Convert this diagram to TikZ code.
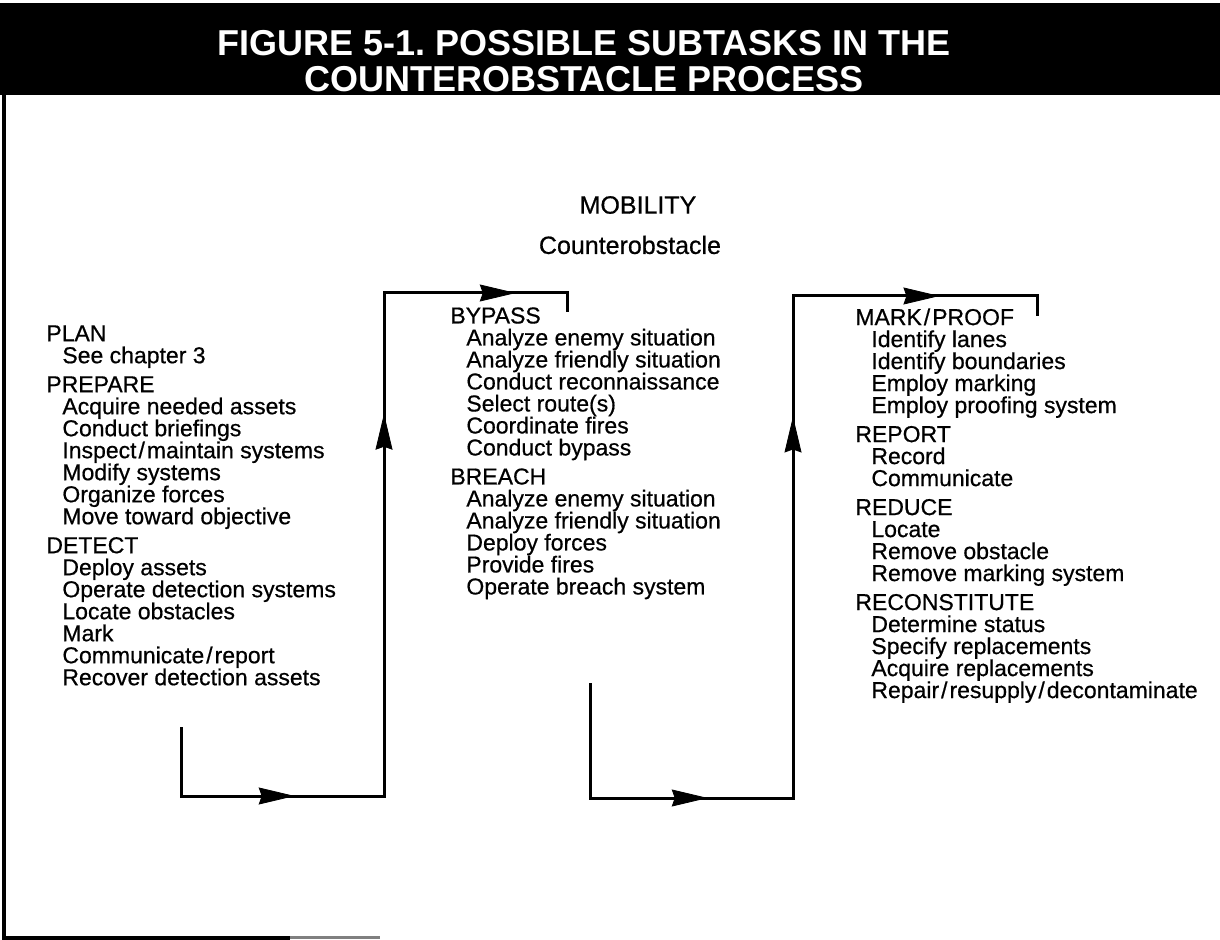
\documentclass[tikz,border=0pt]{standalone}
\usepackage{fontspec}
\setmainfont{Liberation Sans}
\newfontfamily\bodyfont{Liberation Sans}[FakeBold=0.6]
\usetikzlibrary{arrows.meta,decorations.markings}
\newcommand\subind{\hspace*{8pt}}
\newcommand\slsep{\kern1pt/\kern1pt}
\begin{document}
\frenchspacing
\begin{tikzpicture}[x=0.5pt,y=-0.5pt,
  conn/.style={line width=1.5pt, line join=miter},
  headat/.style={decoration={markings, mark=at position #1 with {\arrow{Stealth[length=18pt,width=8.5pt,inset=1.5pt]}}}, postaction=decorate},
  col/.style={align=left, anchor=north west, inner sep=0pt, font=\bodyfont\fontsize{11.5}{11}\selectfont},
  caption/.style={inner sep=0pt, font=\bodyfont\fontsize{12.5}{12.5}\selectfont}]
\useasboundingbox (0,0) rectangle (1220,940);

% title bar
\fill[black] (0,3) rectangle (1220,95);
\node[text=white, align=center, inner sep=0pt, font=\bfseries\fontsize{18}{18}\selectfont] (title) at (584,61)
  {FIGURE 5-1. POSSIBLE SUBTASKS IN THE\\COUNTEROBSTACLE PROCESS};

% frame
\draw[line width=2pt] (4,95) -- (4,937.5) -- (290,937.5);
\draw[line width=1.2pt, gray] (290,937.5) -- (380,937.5);

% heading
\node[caption] (mob) at (638,205) {MOBILITY};
\node[caption] (cob) at (630,245) {Counterobstacle};

% task lists
\node[col] (left) at (46,325) {PLAN\\
\subind See chapter 3\\[3.5pt]
PREPARE\\
\subind Acquire needed assets\\
\subind Conduct briefings\\
\subind Inspect\slsep maintain systems\\
\subind Modify systems\\
\subind Organize forces\\
\subind Move toward objective\\[3.5pt]
DETECT\\
\subind Deploy assets\\
\subind Operate detection systems\\
\subind Locate obstacles\\
\subind Mark\\
\subind Communicate\slsep report\\
\subind Recover detection assets};

\node[col] (mid) at (450,307) {BYPASS\\
\subind Analyze enemy situation\\
\subind Analyze friendly situation\\
\subind Conduct reconnaissance\\
\subind Select route(s)\\
\subind Coordinate fires\\
\subind Conduct bypass\\[3.5pt]
BREACH\\
\subind Analyze enemy situation\\
\subind Analyze friendly situation\\
\subind Deploy forces\\
\subind Provide fires\\
\subind Operate breach system};

\node[col] (right) at (855,308) {MARK\slsep PROOF\\
\subind Identify lanes\\
\subind Identify boundaries\\
\subind Employ marking\\
\subind Employ proofing system\\[3.5pt]
REPORT\\
\subind Record\\
\subind Communicate\\[3.5pt]
REDUCE\\
\subind Locate\\
\subind Remove obstacle\\
\subind Remove marking system\\[3.5pt]
RECONSTITUTE\\
\subind Determine status\\
\subind Specify replacements\\
\subind Acquire replacements\\
\subind Repair\slsep resupply\slsep decontaminate};

% flow from the first list to the second
\coordinate (a1) at (181,727);
\coordinate (a2) at (181,796);
\coordinate (a3) at (384,796);
\coordinate (a4) at (384,293);
\coordinate (a5) at (567,293);
\coordinate (a6) at (567,312);
\draw[conn] (a1) -- (a2) -- (a3) -- (a4) -- (a5) -- (a6);
\path[headat=0.56] (a2) -- (a3);
\path[headat=0.76] (a3) -- (a4);
\path[headat=0.72] (a4) -- (a5);

% flow from the second list to the third
\coordinate (b1) at (590,683);
\coordinate (b2) at (590,798);
\coordinate (b3) at (793,798);
\coordinate (b4) at (793,296);
\coordinate (b5) at (1037,296);
\coordinate (b6) at (1037,316);
\draw[conn] (b1) -- (b2) -- (b3) -- (b4) -- (b5) -- (b6);
\path[headat=0.58] (b2) -- (b3);
\path[headat=0.76] (b3) -- (b4);
\path[headat=0.60] (b4) -- (b5);
\end{tikzpicture}
\end{document}
